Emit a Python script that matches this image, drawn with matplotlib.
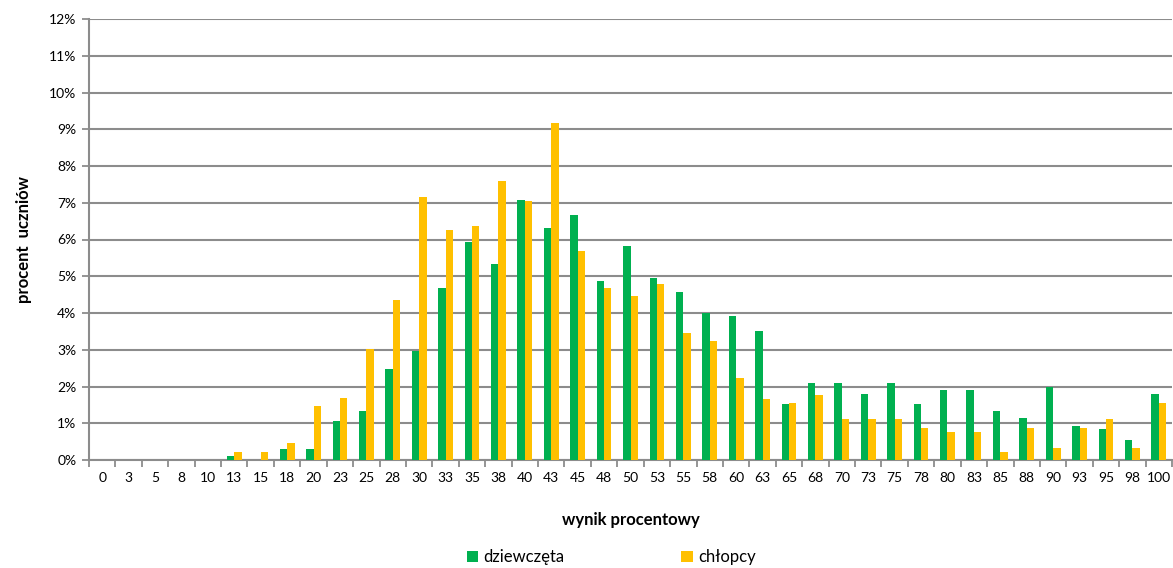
import numpy as np
import matplotlib
matplotlib.use('Agg')
import matplotlib.pyplot as plt
from matplotlib.ticker import FixedLocator

plt.rcParams['font.family'] = ['Lato', 'DejaVu Sans']

categories = ['0', '3', '5', '8', '10', '13', '15', '18', '20', '23', '25', '28', '30', '33',
              '35', '38', '40', '43', '45', '48', '50', '53', '55', '58', '60', '63', '65', '68',
              '70', '73', '75', '78', '80', '83', '85', '88', '90', '93', '95', '98', '100']

# percent of students
girls = [0, 0, 0, 0, 0, 0.11, 0, 0.30, 0.30, 1.05, 1.34, 2.48, 2.96, 4.67,
         5.92, 5.34, 7.07, 6.30, 6.68, 4.87, 5.82, 4.96, 4.58, 4.01, 3.91, 3.52, 1.52, 2.09,
         2.09, 1.80, 2.09, 1.52, 1.90, 1.90, 1.32, 1.13, 2.00, 0.93, 0.84, 0.55, 1.80]
boys = [0, 0, 0, 0, 0, 0.23, 0.23, 0.45, 1.47, 1.68, 3.03, 4.36, 7.16, 6.27,
        6.38, 7.60, 7.05, 9.18, 5.69, 4.69, 4.47, 4.80, 3.46, 3.24, 2.23, 1.66, 1.56, 1.78,
        1.11, 1.11, 1.11, 0.88, 0.77, 0.77, 0.21, 0.88, 0.33, 0.88, 1.11, 0.33, 1.56]

green = '#00B050'
yellow = '#FFC000'
grey = '#8C8C8C'

fig = plt.figure(figsize=(11.73, 5.68), dpi=100)
ax = fig.add_axes([89 / 1173, 108 / 568, 1083 / 1173, 441 / 568])

x = np.arange(len(categories))
w = 0.28
ax.bar(x - w / 2, girls, width=w, color=green, label='dziewczęta', zorder=3)
ax.bar(x + w / 2, boys, width=w, color=yellow, label='chłopcy', zorder=3)

ax.set_xlim(-0.5, len(categories) - 0.5)
ax.set_ylim(0, 12)
ax.set_yticks(range(0, 13))
ax.set_yticklabels([f'{v}%' for v in range(0, 13)])
ax.yaxis.grid(True, color=grey, linewidth=1.5, zorder=0)

ax.set_xticks(x)
ax.set_xticklabels(categories)
ax.xaxis.set_minor_locator(FixedLocator(np.arange(-0.5, len(categories), 1)))
ax.tick_params(axis='x', which='major', length=0, pad=9, labelsize=10, colors='black')
ax.tick_params(axis='x', which='minor', length=5, width=1.3, color=grey)
ax.tick_params(axis='y', length=5, width=1.3, color=grey, labelsize=10, pad=4)

for side in ['top', 'right']:
    ax.spines[side].set_visible(False)
for side in ['left', 'bottom']:
    ax.spines[side].set_color(grey)
    ax.spines[side].set_linewidth(1.5)

ax.set_ylabel('procent  uczniów', fontsize=12, fontweight='bold', labelpad=12)
ax.set_xlabel('wynik procentowy', fontsize=12, fontweight='bold', labelpad=20)

fig.legend(loc='lower center', bbox_to_anchor=(0.521, -0.022), ncol=2, frameon=False,
           fontsize=12, handlelength=0.7, handleheight=0.7, handletextpad=0.3,
           columnspacing=7.0)

fig.savefig('out.png', dpi=100)
